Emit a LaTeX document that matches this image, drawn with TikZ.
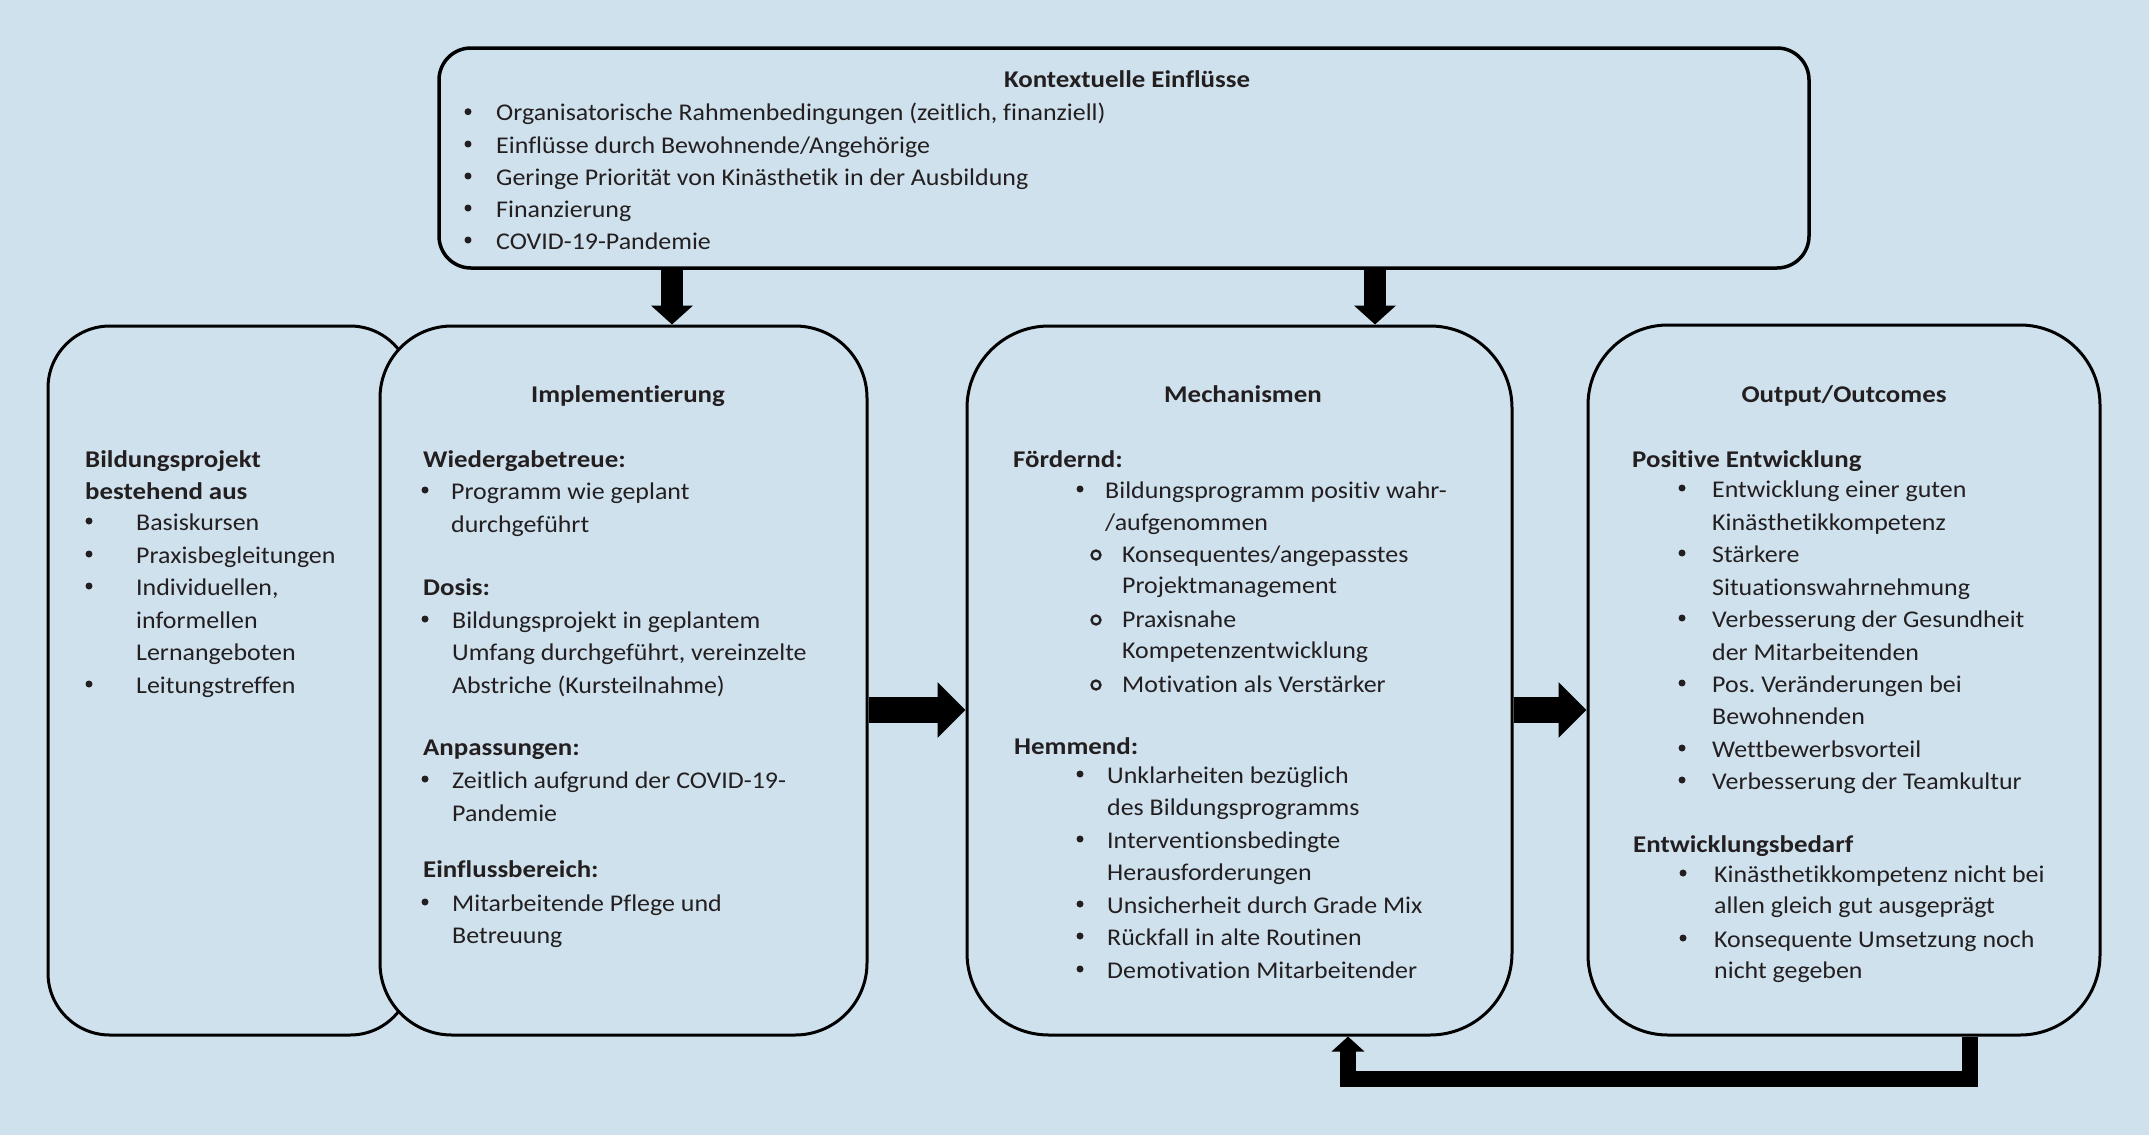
\documentclass[tikz,border=0pt]{standalone}
\usepackage{fontspec}
\setmainfont{Carlito}[Ligatures=NoCommon,FakeStretch=1.08,BoldFeatures={FakeStretch=1.12}]
\usetikzlibrary{arrows.meta}
\definecolor{bg}{RGB}{207,225,237}
\definecolor{ink}{RGB}{35,31,32}
\frenchspacing
\newcommand\Ln[4]{\node[txt] (#1) at (#2,#3) {#4};}
\newcommand\Hd[4]{\node[hdr] (#1) at (#2,#3) {#4};}
\newcommand\Bu[3]{\node[bul] (#1) at (#2,#3-9) {};}
\newcommand\Ob[3]{\node[obul] (#1) at (#2,#3-7) {};}
\begin{document}
\begin{tikzpicture}[x=1pt,y=-1pt,
  box/.style={draw=black,line width=3pt,fill=bg,inner sep=0pt},
  txt/.style={anchor=base west,inner sep=0pt,text=ink,font=\fontsize{24}{29}\selectfont},
  hdr/.style={txt,font=\fontsize{24}{29}\selectfont\bfseries},
  ctr/.style={anchor=base},
  bul/.style={circle,fill=ink,inner sep=0pt,minimum size=7pt},
  obul/.style={circle,draw=ink,line width=2.3pt,inner sep=0pt,minimum size=9pt},
  vdown/.style={line width=22pt,-{Triangle[width=41pt,length=19pt]}},
  harrow/.style={line width=26pt,-{Triangle[width=54pt,length=28pt]}},
  fbarrow/.style={line width=16pt,-{Triangle[width=32pt,length=15pt]}},
]
\fill[bg] (0,0) rectangle (2149,1135);
\useasboundingbox (0,0) rectangle (2149,1135);

% boxes
\node[box,line width=3.5pt,rounded corners=32pt,minimum width=1370pt,minimum height=220pt] (top) at (1124,158) {};
\node[box,rounded corners=62pt,minimum width=364pt,minimum height=709pt] (b1) at (230,680.5) {};
\node[box,rounded corners=72pt,minimum width=487pt,minimum height=709pt] (b2) at (623.5,680.5) {};
\node[box,rounded corners=82pt,minimum width=545pt,minimum height=709pt] (b3) at (1239.5,680.5) {};
\node[box,rounded corners=80pt,minimum width=512pt,minimum height=710pt] (b4) at (1844,680) {};

% top box text
\node[hdr,ctr] (ktitle) at (1127,87) {Kontextuelle Einflüsse};
\Bu{kb1}{468}{120.7}\Ln{k1}{496}{120.7}{Organisatorische Rahmenbedingungen (zeitlich, finanziell)}
\Bu{kb2}{468}{153}\Ln{k2}{496}{153}{Einflüsse durch Bewohnende/Angehörige}
\Bu{kb3}{468}{185}\Ln{k3}{496}{185}{Geringe Priorität von Kinästhetik in der Ausbildung}
\Bu{kb4}{468}{217}\Ln{k4}{496}{217}{Finanzierung}
\Bu{kb5}{468}{249}\Ln{k5}{496}{249}{COVID-19-Pandemie}

% box 1
\Hd{bh1}{85}{467}{Bildungsprojekt}
\Hd{bh2}{85}{499}{bestehend aus}
\Bu{bb1}{89}{530}\Ln{bt1}{136}{530}{Basiskursen}
\Bu{bb2}{89}{563}\Ln{bt2}{136}{563}{Praxisbegleitungen}
\Bu{bb3}{89}{595}\Ln{bt3}{136}{595}{Individuellen,}
\Ln{bt4}{136}{628}{informellen}
\Ln{bt5}{136}{660}{Lernangeboten}
\Bu{bb4}{89}{693}\Ln{bt6}{136}{693}{Leitungstreffen}

% box 2
\node[hdr,ctr] (ih) at (628,402) {Implementierung};
\Hd{ih1}{423}{467}{Wiedergabetreue:}
\Bu{ib1}{425}{499}\Ln{it1}{451}{499}{Programm wie geplant}
\Ln{it2}{451}{532}{durchgeführt}
\Hd{ih2}{423}{595}{Dosis:}
\Bu{ib2}{425}{628}\Ln{it3}{452}{628}{Bildungsprojekt in geplantem}
\Ln{it4}{452}{660}{Umfang durchgeführt, vereinzelte}
\Ln{it5}{452}{693}{Abstriche (Kursteilnahme)}
\Hd{ih3}{423}{755}{Anpassungen:}
\Bu{ib3}{425}{788}\Ln{it6}{452}{788}{Zeitlich aufgrund der COVID-19-}
\Ln{it7}{452}{821}{Pandemie}
\Hd{ih4}{423}{877}{Einflussbereich:}
\Bu{ib4}{425}{911}\Ln{it8}{452}{911}{Mitarbeitende Pflege und}
\Ln{it9}{452}{943}{Betreuung}

% box 3
\node[hdr,ctr] (mh) at (1243,402) {Mechanismen};
\Hd{mh1}{1013}{467}{Fördernd:}
\Bu{mb1}{1080}{498}\Ln{mt1}{1105}{498}{Bildungsprogramm positiv wahr-}
\Ln{mt2}{1105}{530}{/aufgenommen}
\Ob{mo1}{1096}{562}\Ln{mt3}{1122}{562}{Konsequentes/angepasstes}
\Ln{mt4}{1122}{593}{Projektmanagement}
\Ob{mo2}{1096}{627}\Ln{mt5}{1122}{627}{Praxisnahe}
\Ln{mt6}{1122}{658}{Kompetenzentwicklung}
\Ob{mo3}{1096}{692}\Ln{mt7}{1122}{692}{Motivation als Verstärker}
\Hd{mh2}{1014}{754}{Hemmend:}
\Bu{mb2}{1080}{783}\Ln{mt8}{1107}{783}{Unklarheiten bezüglich}
\Ln{mt9}{1107}{815}{des Bildungsprogramms}
\Bu{mb3}{1080}{848}\Ln{mt10}{1107}{848}{Interventionsbedingte}
\Ln{mt11}{1107}{880}{Herausforderungen}
\Bu{mb4}{1080}{913}\Ln{mt12}{1107}{913}{Unsicherheit durch Grade Mix}
\Bu{mb5}{1080}{945}\Ln{mt13}{1107}{945}{Rückfall in alte Routinen}
\Bu{mb6}{1080}{978}\Ln{mt14}{1107}{978}{Demotivation Mitarbeitender}

% box 4
\node[hdr,ctr] (oh) at (1844,402) {Output/Outcomes};
\Hd{oh1}{1632}{467}{Positive Entwicklung}
\Bu{ob1}{1682}{497}\Ln{ot1}{1712}{497}{Entwicklung einer guten}
\Ln{ot2}{1712}{530}{Kinästhetikkompetenz}
\Bu{ob2}{1682}{562}\Ln{ot3}{1712}{562}{Stärkere}
\Ln{ot4}{1712}{595}{Situationswahrnehmung}
\Bu{ob3}{1682}{627}\Ln{ot5}{1712}{627}{Verbesserung der Gesundheit}
\Ln{ot6}{1712}{660}{der Mitarbeitenden}
\Bu{ob4}{1682}{692}\Ln{ot7}{1712}{692}{Pos. Veränderungen bei}
\Ln{ot8}{1712}{724}{Bewohnenden}
\Bu{ob5}{1682}{757}\Ln{ot9}{1712}{757}{Wettbewerbsvorteil}
\Bu{ob6}{1682}{789}\Ln{ot10}{1712}{789}{Verbesserung der Teamkultur}
\Hd{oh2}{1633}{852}{Entwicklungsbedarf}
\Bu{ob7}{1683}{882}\Ln{ot11}{1714}{882}{Kinästhetikkompetenz nicht bei}
\Ln{ot12}{1714}{913}{allen gleich gut ausgeprägt}
\Bu{ob8}{1683}{947}\Ln{ot13}{1714}{947}{Konsequente Umsetzung noch}
\Ln{ot14}{1714}{978}{nicht gegeben}

% connectors
\coordinate (ax1) at (672,0);
\coordinate (ax2) at (1375,0);
\coordinate (ay) at (0,710);
\coordinate (fb1) at (1970,0);
\coordinate (fb2) at (1348,0);
\coordinate (fby) at (0,1079);
\draw[vdown] (top.south -| ax1) -- (b2.north -| ax1);
\draw[vdown] (top.south -| ax2) -- (b3.north -| ax2);
\draw[harrow] (b2.east |- ay) -- (b3.west |- ay);
\draw[harrow] (b3.east |- ay) -- (b4.west |- ay);
\draw[fbarrow] (b4.south -| fb1) -- (fb1 |- fby) -- (fb2 |- fby) -- (b3.south -| fb2);
\end{tikzpicture}
\end{document}
